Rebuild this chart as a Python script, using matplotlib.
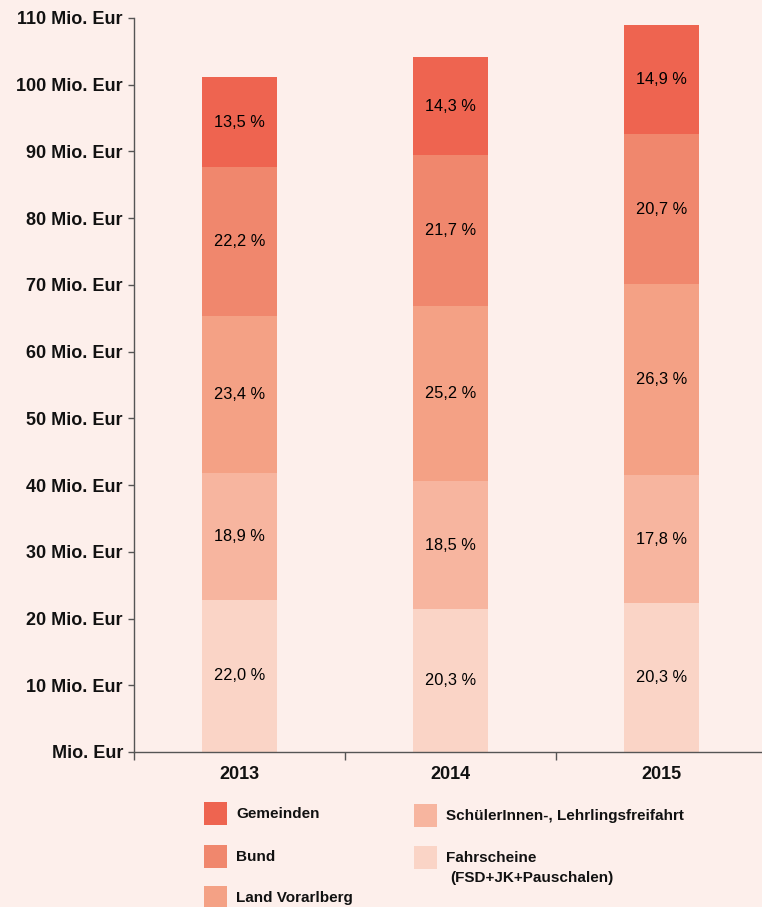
import numpy as np
import matplotlib
matplotlib.use('Agg')
import matplotlib.pyplot as plt
import matplotlib.patches as patches

plt.rcParams['font.family'] = ['Liberation Sans', 'DejaVu Sans']

# Daten (Mio. Eur)
years = ['2013', '2014', '2015']
series_names = ['Fahrscheine', 'SchülerInnen-, Lehrlingsfreifahrt',
                'Land Vorarlberg', 'Bund', 'Gemeinden']
fahrscheine = [22.8, 21.4, 22.3]
schueler = [19.0, 19.2, 19.2]
land = [23.5, 26.2, 28.6]
bund = [22.3, 22.6, 22.5]
gemeinden = [13.6, 14.7, 16.3]
pct_labels = [
    ['22,0 %', '20,3 %', '20,3 %'],
    ['18,9 %', '18,5 %', '17,8 %'],
    ['23,4 %', '25,2 %', '26,3 %'],
    ['22,2 %', '21,7 %', '20,7 %'],
    ['13,5 %', '14,3 %', '14,9 %'],
]
colors = ['#fad4c6', '#f7b59f', '#f4a185', '#f0876d', '#ee6450']
bg = '#fdefeb'

fig = plt.figure(figsize=(7.62, 9.07), dpi=100, facecolor=bg)
ax = fig.add_axes([134 / 762, 155 / 907, 633 / 762, 734 / 907])
ax.set_facecolor(bg)

x = np.arange(len(years))
stack = [fahrscheine, schueler, land, bund, gemeinden]
bottom = np.zeros(len(years))
for vals, col, labs in zip(stack, colors, pct_labels):
    vals = np.array(vals)
    ax.bar(x, vals, width=0.36, bottom=bottom, color=col, linewidth=0)
    for xi, b, v, lab in zip(x, bottom, vals, labs):
        ax.text(xi, b + v / 2, lab, ha='center', va='center',
                fontsize=11.8, color='#000000')
    bottom += vals

ax.set_xlim(-0.5, 2.5)
ax.set_ylim(0, 110)
ax.set_yticks(np.arange(0, 111, 10))
ax.set_yticklabels(['Mio. Eur'] + [f'{v} Mio. Eur' for v in range(10, 111, 10)])
ax.set_xticks(x)
ax.set_xticklabels(years)
ax.set_xticks([-0.5, 0.5, 1.5, 2.5], minor=True)

for s in ['top', 'right']:
    ax.spines[s].set_visible(False)
for s in ['left', 'bottom']:
    ax.spines[s].set_color('#555555')
    ax.spines[s].set_linewidth(1.0)

ax.tick_params(axis='y', length=4, width=1, color='#555555', pad=4,
               labelsize=13, labelcolor='#111111')
ax.tick_params(axis='x', which='major', length=0, pad=10,
               labelsize=13, labelcolor='#111111')
ax.tick_params(axis='x', which='minor', length=6, width=1, color='#555555')
for lab in ax.get_yticklabels() + ax.get_xticklabels():
    lab.set_fontweight('bold')

# Legende
W, H = 762, 907
def legend_item(px, py, col, text, extra=None):
    fig.patches.append(patches.Rectangle((px / W, 1 - (py + 23) / H), 23 / W, 23 / H,
                                         transform=fig.transFigure, color=col, lw=0))
    fig.text((px + 32) / W, 1 - (py + 12) / H, text, ha='left', va='center',
             fontsize=11, fontweight='bold', color='#111111')
    if extra:
        fig.text((px + 36) / W, 1 - (py + 32) / H, extra, ha='left', va='center',
                 fontsize=11, fontweight='bold', color='#111111')

legend_item(204, 802, colors[4], 'Gemeinden')
legend_item(204, 845, colors[3], 'Bund')
legend_item(204, 886, colors[2], 'Land Vorarlberg')
legend_item(414, 804, colors[1], 'SchülerInnen-, Lehrlingsfreifahrt')
legend_item(414, 846, colors[0], 'Fahrscheine', '(FSD+JK+Pauschalen)')

plt.savefig('out.png', dpi=100, facecolor=bg)
plt.close()
